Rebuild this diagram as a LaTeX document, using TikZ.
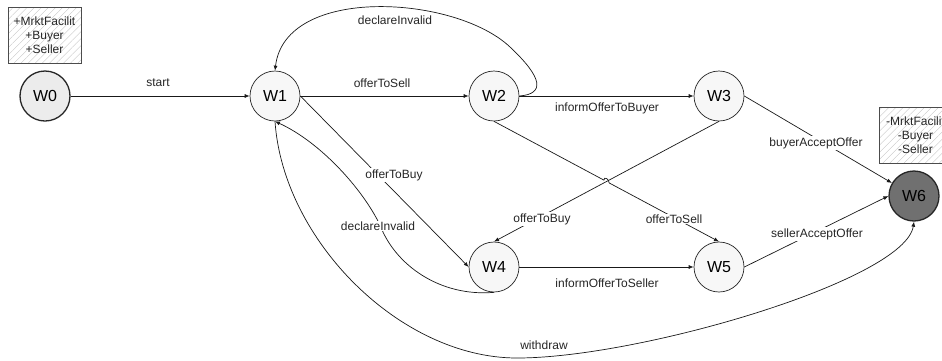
\documentclass[tikz,border=0pt]{standalone}
\usepackage{fontspec}
\setmainfont{Liberation Sans}
\usetikzlibrary{arrows.meta,patterns.meta,calc}
\begin{document}
\begin{tikzpicture}[x=1pt,y=-1pt,
  state/.style={circle, draw=black!85, line width=0.7pt, minimum size=50pt,
    inner sep=0pt, fill=gray!6, font=\fontsize{16}{18}\selectfont},
  initstate/.style={state, fill=gray!15, line width=1.3pt},
  finalstate/.style={state, fill=black!56, line width=1.3pt},
  conn/.style={draw=black!90, line width=0.7pt, -{Latex[length=5pt,width=4pt]}},
  plain/.style={draw=black!90, line width=0.7pt},
  lbl/.style={font=\fontsize{12}{14}\selectfont, text=black!85, fill=white, inner sep=1pt},
  rolebox/.style={draw=black!70, line width=0.6pt,
    pattern={Lines[angle=45,distance=5pt,line width=0.35pt]}, pattern color=gray!45,
    minimum width=73pt, minimum height=56pt, inner sep=1pt, align=center,
    font=\fontsize{12}{14}\selectfont, text=black!85},
]
\clip (0,0) rectangle (942,360);
\fill[white] (0,0) rectangle (942,360);

% role boxes
\node[rolebox] (enter) at (44.5,35) {+MrktFacilit\\+Buyer\\+Seller};
\node[rolebox] (leave) at (915.5,135.5) {-MrktFacilit\\-Buyer\\-Seller};

% states
\node[initstate]  (w0) at (45,96)  {W0};
\node[state]      (w1) at (275,96) {W1};
\node[state]      (w2) at (494,96) {W2};
\node[state]      (w3) at (719,96) {W3};
\node[state]      (w4) at (494,267) {W4};
\node[state]      (w5) at (719,267) {W5};
\node[finalstate] (w6) at (914,196) {W6};

% straight transitions
\draw[conn] (w0.east) -- (w1.west) node[lbl] at (158,83) {start};
\draw[conn] (w1.east) -- (w2.west) node[lbl] at (382,83) {offerToSell};
\draw[conn] (w2.east) -- (w3.west) node[lbl] at (607,108) {informOfferToBuyer};
\draw[conn] (w4.east) -- (w5.west) node[lbl] at (607,283) {informOfferToSeller};
\draw[conn] (w1.east) -- (w4.west) node[lbl] at (394,175) {offerToBuy};
\draw[conn] (w3.east) -- (w6) node[lbl] at (816,143) {buyerAcceptOffer};
\draw[conn] (w5.east) -- (w6.west) node[lbl] at (817,234) {sellerAcceptOffer};

% crossing transitions, with a small hop where they meet
\coordinate (cross) at (intersection of w2.south--w5.north and w3.south--w4.north);
\draw[conn] (w3.south) -- (w4.north) node[lbl] at (542,219) {offerToBuy};
\draw[conn] (w2.south) -- ($(cross)!3pt!(w2.south)$)
  .. controls +(0,-4) and +(0,-4) .. ($(cross)!3pt!(w5.north)$) -- (w5.north)
  node[lbl] at (674,219) {offerToSell};

% curved transitions
\draw[conn] (w2.east) .. controls (545,94) and (543,78) .. (510,47)
  .. controls (455,-5) and (285,-15) .. (w1.north)
  node[lbl] at (395,20) {declareInvalid};
\draw[conn] (w4.south) .. controls (440,297) and (395,265) .. (380,225)
  .. controls (362,188) and (320,142) .. (w1.south)
  node[lbl] at (378,226) {declareInvalid};
\draw[conn] (w1.south) .. controls (283,240) and (400,358) .. (517,358)
  .. controls (640,358) and (905,280) .. (w6.south)
  node[lbl] at (544,345) {withdraw};
\end{tikzpicture}
\end{document}
